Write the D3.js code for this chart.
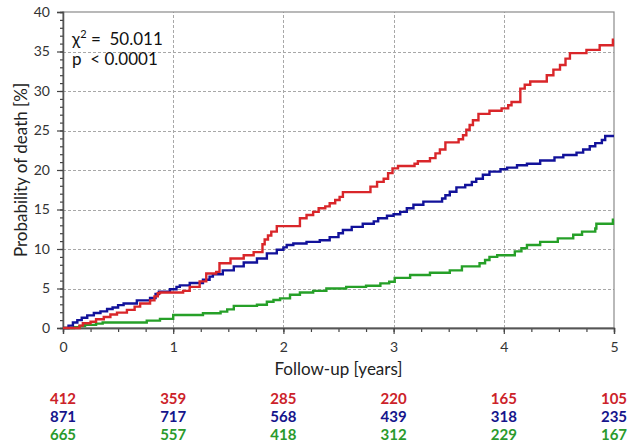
<!DOCTYPE html>
<html>
<head>
<meta charset="utf-8">
<script src="https://cdn.jsdelivr.net/npm/d3@7"></script>
<style>
  html, body { margin: 0; padding: 0; background: #fff; }
  svg { display: block; font-family: Lato, "Open Sans", sans-serif; }
</style>
</head>
<body>
<svg id="chart" width="630" height="442"></svg>
<script>
// Cumulative probability of death (%) — step curves, [time in years] and [value]
const redTimes = [0, 0.15, 0.18, 0.25, 0.30, 0.37, 0.43, 0.49, 0.58, 0.65, 0.70, 0.79, 0.83, 0.86, 0.88, 1.09, 1.15, 1.24, 1.30, 1.39, 1.42, 1.52, 1.64, 1.73, 1.81, 1.83, 1.86, 1.89, 1.94, 2.15, 2.21, 2.27, 2.32, 2.38, 2.42, 2.47, 2.51, 2.54, 2.79, 2.85, 2.91, 2.95, 2.99, 3.04, 3.19, 3.22, 3.33, 3.38, 3.42, 3.47, 3.59, 3.63, 3.66, 3.69, 3.72, 3.77, 3.87, 3.98, 4.04, 4.07, 4.15, 4.19, 4.24, 4.39, 4.45, 4.51, 4.56, 4.60, 4.75, 4.87, 4.99, 5.0];
const redRisk  = [0, 0.3, 0.6, 0.8, 1.1, 1.4, 1.7, 1.95, 2.3, 2.7, 3.1, 3.5, 4.0, 4.4, 4.5, 4.7, 5.2, 5.9, 6.9, 7.1, 8.2, 8.8, 9.2, 9.6, 10.6, 11.2, 11.7, 12.2, 12.9, 13.9, 14.3, 14.7, 15.15, 15.4, 15.8, 16.2, 16.6, 17.2, 17.9, 18.5, 18.9, 19.6, 20.2, 20.5, 20.8, 21.1, 21.5, 22.1, 22.6, 23.5, 23.9, 24.4, 25.1, 25.7, 26.3, 27.1, 27.5, 27.8, 28.2, 28.6, 30.3, 30.8, 31.2, 32.0, 32.7, 33.3, 34.1, 34.8, 35.2, 35.8, 36.5, 36.5];

const blueTimes = [0, 0.05, 0.09, 0.13, 0.17, 0.22, 0.28, 0.34, 0.40, 0.45, 0.50, 0.55, 0.67, 0.79, 0.84, 0.87, 0.97, 1.03, 1.06, 1.15, 1.27, 1.33, 1.36, 1.45, 1.55, 1.64, 1.76, 1.85, 1.94, 2.00, 2.03, 2.09, 2.21, 2.33, 2.42, 2.50, 2.54, 2.62, 2.72, 2.82, 2.86, 2.94, 3.00, 3.06, 3.12, 3.18, 3.27, 3.44, 3.47, 3.51, 3.57, 3.65, 3.71, 3.75, 3.81, 3.87, 3.97, 4.03, 4.12, 4.21, 4.33, 4.46, 4.54, 4.66, 4.72, 4.78, 4.83, 4.89, 4.92, 5.0];
const blueRisk  = [0, 0.3, 0.7, 1.0, 1.3, 1.6, 1.9, 2.1, 2.4, 2.6, 2.9, 3.1, 3.5, 3.8, 4.3, 4.6, 4.9, 5.2, 5.4, 5.7, 6.1, 6.5, 6.8, 7.3, 7.8, 8.3, 8.8, 9.45, 9.9, 10.2, 10.5, 10.7, 10.9, 11.1, 11.5, 12.0, 12.4, 12.8, 13.2, 13.5, 13.9, 14.2, 14.4, 14.7, 15.15, 15.6, 16.0, 16.4, 16.8, 17.25, 17.8, 18.1, 18.5, 18.9, 19.4, 19.8, 20.1, 20.3, 20.6, 20.8, 21.2, 21.6, 21.9, 22.2, 22.6, 23.0, 23.4, 23.8, 24.3, 24.3];

const greenTimes = [0, 0.10, 0.15, 0.20, 0.30, 0.36, 0.76, 0.88, 1.00, 1.27, 1.43, 1.49, 1.55, 1.76, 1.85, 1.91, 1.97, 2.06, 2.15, 2.27, 2.39, 2.57, 2.75, 2.88, 2.96, 3.01, 3.15, 3.33, 3.51, 3.62, 3.78, 3.83, 3.87, 3.94, 4.10, 4.16, 4.21, 4.33, 4.49, 4.63, 4.71, 4.83, 4.84, 4.99, 5.0];
const greenRisk  = [0, 0.1, 0.25, 0.4, 0.55, 0.7, 0.93, 1.15, 1.65, 1.86, 2.07, 2.36, 2.8, 2.95, 3.33, 3.54, 3.75, 4.2, 4.5, 4.7, 5.0, 5.2, 5.35, 5.65, 5.85, 6.35, 6.7, 7.0, 7.3, 7.8, 8.2, 8.6, 9.0, 9.2, 9.7, 10.1, 10.5, 10.9, 11.35, 11.8, 12.2, 12.6, 13.2, 13.7, 13.7];

// Numbers at risk at each whole year
const riskYears = [0, 1, 2, 3, 4, 5];
const redAtRisk   = [412, 359, 285, 220, 165, 105];
const blueAtRisk  = [871, 717, 568, 439, 318, 235];
const greenAtRisk = [665, 557, 418, 312, 229, 167];

const xTicks = [0, 1, 2, 3, 4, 5];
const yTicks = [0, 5, 10, 15, 20, 25, 30, 35, 40];

const colors = { red: "#d9262a", blue: "#12129a", green: "#26a028" };
const textColors = { red: "#cc2229", blue: "#15158c", green: "#2a9a2c" };

const svg = d3.select("#chart");
const margin = { top: 12, right: 16, bottom: 114, left: 63 };
const W = 630, H = 442;
const iw = W - margin.left - margin.right;
const ih = H - margin.top - margin.bottom;

const x = d3.scaleLinear().domain([0, 5]).range([margin.left, margin.left + iw]);
const y = d3.scaleLinear().domain([0, 40]).range([margin.top + ih, margin.top]);

// dashed grid
const grid = svg.append("g").attr("stroke", "#a8a8a8").attr("stroke-dasharray", "3,2").attr("stroke-width", 1);
yTicks.filter(v => v > 0 && v < 40).forEach(v => {
  grid.append("line").attr("x1", x(0)).attr("x2", x(5)).attr("y1", Math.round(y(v)) + 0.5).attr("y2", Math.round(y(v)) + 0.5);
});
xTicks.filter(v => v > 0 && v < 5).forEach(v => {
  grid.append("line").attr("y1", y(0)).attr("y2", y(40)).attr("x1", Math.round(x(v)) + 0.5).attr("x2", Math.round(x(v)) + 0.5);
});

// plot frame
svg.append("rect")
  .attr("x", x(0)).attr("y", y(40)).attr("width", x(5) - x(0)).attr("height", y(0) - y(40))
  .attr("fill", "none").attr("stroke", "#8a8a8a").attr("stroke-width", 1.2);

// axes
const xAxis = d3.axisBottom(x).tickValues(xTicks).tickFormat(d3.format("d")).tickSize(6).tickPadding(8);
const xMinor = d3.axisBottom(x).tickValues(d3.range(0, 5.001, 0.25)).tickFormat("").tickSize(4);
const yAxis = d3.axisLeft(y).tickValues(yTicks).tickFormat(d3.format("d")).tickSize(6).tickPadding(7);
const yMinor = d3.axisLeft(y).tickValues(d3.range(0, 40.001, 1)).tickFormat("").tickSize(3);

function styleAxis(g) {
  g.select(".domain").attr("stroke", "#555").attr("stroke-width", 1.3);
  g.selectAll(".tick line").attr("stroke", "#444").attr("stroke-width", 1.2);
  g.selectAll(".tick text").attr("fill", "#333").style("font-size", "14px").style("font-family", "Lato, sans-serif");
}
svg.append("g").attr("transform", `translate(0,${y(0)})`).call(xMinor).call(styleAxis);
svg.append("g").attr("transform", `translate(0,${y(0)})`).call(xAxis).call(styleAxis);
svg.append("g").attr("transform", `translate(${x(0)},0)`).call(yMinor).call(styleAxis);
svg.append("g").attr("transform", `translate(${x(0)},0)`).call(yAxis).call(styleAxis);

// step curves
const line = d3.line().curve(d3.curveStepAfter).x(d => x(d[0])).y(d => y(d[1]));
const series = [
  { key: "green", t: greenTimes, v: greenRisk },
  { key: "blue", t: blueTimes, v: blueRisk },
  { key: "red", t: redTimes, v: redRisk }
];
series.forEach(s => {
  svg.append("path")
    .datum(s.t.map((t, i) => [t, s.v[i]]))
    .attr("fill", "none")
    .attr("stroke", colors[s.key])
    .attr("stroke-width", 2.4)
    .attr("stroke-linejoin", "miter")
    .attr("d", line);
});

// axis titles
svg.append("text")
  .attr("x", (x(0) + x(5)) / 2).attr("y", 375)
  .attr("text-anchor", "middle").attr("fill", "#222")
  .style("font-size", "17px")
  .text("Follow-up [years]");
svg.append("text")
  .attr("transform", `translate(27,${(y(0) + y(40)) / 2}) rotate(-90)`)
  .attr("text-anchor", "middle").attr("fill", "#222")
  .style("font-size", "17px")
  .text("Probability of death [%]");

// test statistic
const stat = svg.append("text").attr("x", 72).attr("y", 45).attr("fill", "#111").style("font-size", "17px");
stat.append("tspan").text("χ");
stat.append("tspan").attr("dy", -7).style("font-size", "11px").text("2");
stat.append("tspan").attr("dy", 7).attr("xml:space", "preserve").text(" =  50.011");
svg.append("text").attr("x", 72).attr("y", 65).attr("fill", "#111").style("font-size", "17px")
  .style("white-space", "pre").text("p  < 0.0001");

// numbers at risk
const rows = [
  { key: "red", vals: redAtRisk, yPos: 404 },
  { key: "blue", vals: blueAtRisk, yPos: 422 },
  { key: "green", vals: greenAtRisk, yPos: 440 }
];
rows.forEach(r => {
  svg.append("g").selectAll("text").data(riskYears).join("text")
    .attr("x", d => Math.min(x(d), 627 - 12))
    .attr("y", r.yPos)
    .attr("text-anchor", "middle")
    .attr("fill", textColors[r.key])
    .style("font-size", "15px")
    .style("font-weight", "bold")
    .text((d, i) => r.vals[i]);
});
</script>
</body>
</html>
